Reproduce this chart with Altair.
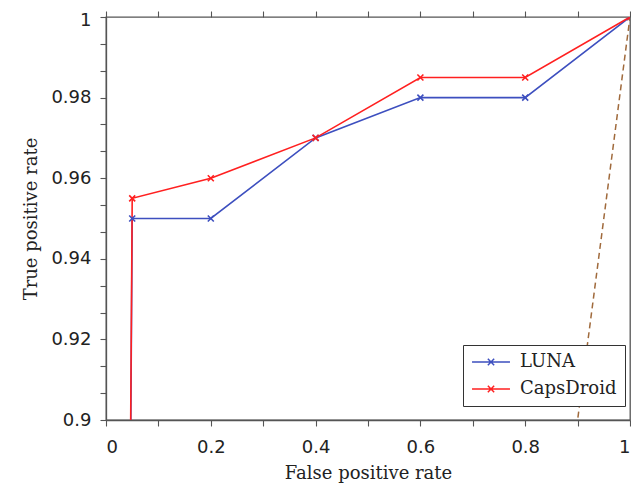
import altair as alt
import pandas as pd

# Data
fpr = [0.0, 0.05, 0.2, 0.4, 0.6, 0.8, 1.0]
luna_tpr = [0.0, 0.95, 0.95, 0.97, 0.98, 0.98, 1.0]
caps_tpr = [0.0, 0.955, 0.96, 0.97, 0.985, 0.985, 1.0]
series = ["LUNA", "CapsDroid"]
colors = ["#3d4fbf", "#ff2020"]
diag_x = [0.0, 1.0]
diag_y = [0.0, 1.0]

x_tick_values = [0.0, 0.1, 0.2, 0.3, 0.4, 0.5, 0.6, 0.7, 0.8, 0.9, 1.0]
y_tick_values = [0.9, 0.906667, 0.913333, 0.92, 0.926667, 0.933333, 0.94,
                 0.946667, 0.953333, 0.96, 0.966667, 0.973333, 0.98,
                 0.986667, 0.993333, 1.0]

rows = []
for name, tpr in zip(series, [luna_tpr, caps_tpr]):
    for x, y in zip(fpr, tpr):
        rows.append({"series": name, "fpr": x, "tpr": y})
df = pd.DataFrame(rows)
df_diag = pd.DataFrame({"fpr": diag_x, "tpr": diag_y})

SERIF = "DejaVu Serif"
SANS = "DejaVu Sans"
AX = "#555555"
TXT = "#222222"

xscale = alt.Scale(domain=[0, 1], nice=False, zero=False)
yscale = alt.Scale(domain=[0.9, 1.0], nice=False, zero=False)

xaxis = alt.Axis(values=x_tick_values, title="False positive rate",
                 labelExpr="abs(datum.value*5 - round(datum.value*5)) < 0.01 ? format(datum.value, '~g') : ''",
                 labelOverlap=False, grid=False, tickSize=6, labelPadding=12, titlePadding=8)
yaxis = alt.Axis(values=y_tick_values, title="True positive rate",
                 labelExpr="abs(datum.value*50 - round(datum.value*50)) < 0.01 ? format(datum.value, '~g') : ''",
                 labelOffset={"condition": {"test": "datum.value >= 0.999", "value": 3}, "value": 0},
                 labelOverlap=False, grid=False, tickSize=6, labelPadding=9, titlePadding=10)

color = alt.Color("series:N", scale=alt.Scale(domain=series, range=colors),
                  sort=series,
                  legend=alt.Legend(title=None, orient="none", legendX=357, legendY=328,
                                    strokeColor="#333333", fillColor="white",
                                    padding=8, labelFont=SERIF, labelFontSize=18,
                                    labelColor=TXT,
                                    symbolType="M-3,0H3M-0.5,-0.5L0.5,0.5M-0.5,0.5L0.5,-0.5",
                                    symbolSize=160, symbolStrokeWidth=1.5,
                                    symbolFillColor="transparent",
                                    symbolOffset=11,
                                    rowPadding=9, labelOffset=20))

diag = alt.Chart(df_diag).mark_line(color="#a06a3c", strokeDash=[6, 4], strokeWidth=1.5,
                                     clip=True).encode(
    x=alt.X("fpr:Q", scale=xscale, axis=xaxis),
    y=alt.Y("tpr:Q", scale=yscale, axis=yaxis),
)

lines = alt.Chart(df).mark_line(strokeWidth=1.6, clip=True).encode(
    x=alt.X("fpr:Q", scale=xscale, axis=None),
    y=alt.Y("tpr:Q", scale=yscale, axis=yaxis),
    color=color,
    order=alt.Order("fpr:Q"),
)

points = alt.Chart(df).mark_point(shape="M-1,-1L1,1M-1,1L1,-1", size=36, filled=False,
                                  strokeWidth=1.6, clip=True, opacity=1).encode(
    x=alt.X("fpr:Q", scale=xscale, axis=None),
    y=alt.Y("tpr:Q", scale=yscale, axis=yaxis),
    color=alt.Color("series:N", scale=alt.Scale(domain=series, range=colors), legend=None),
)

top = alt.Chart(df_diag).mark_line(opacity=0).encode(
    x=alt.X("fpr:Q", scale=xscale,
            axis=alt.Axis(orient="top", values=x_tick_values, labels=False, title=None,
                          grid=False, tickSize=6, domain=False)),
    y=alt.Y("tpr:Q", scale=yscale, axis=yaxis),
)

chart = alt.layer(diag, lines, points, top).resolve_axis(x="independent").properties(
    width=524, height=403,
    autosize=alt.AutoSizeParams(type="none"),
    padding={"left": 98, "top": 9, "right": 1, "bottom": 63},
).configure_view(stroke=AX, strokeWidth=1.3).configure_axis(
    labelFont=SANS, titleFont=SERIF, labelFontSize=18, titleFontSize=18,
    labelColor=TXT, titleColor=TXT, titleFontWeight="normal",
    domainColor=AX, tickColor=AX, domainWidth=1.3, tickWidth=1.1,
)

chart.save("out.html", embed_options={"renderer": "svg", "actions": False})
